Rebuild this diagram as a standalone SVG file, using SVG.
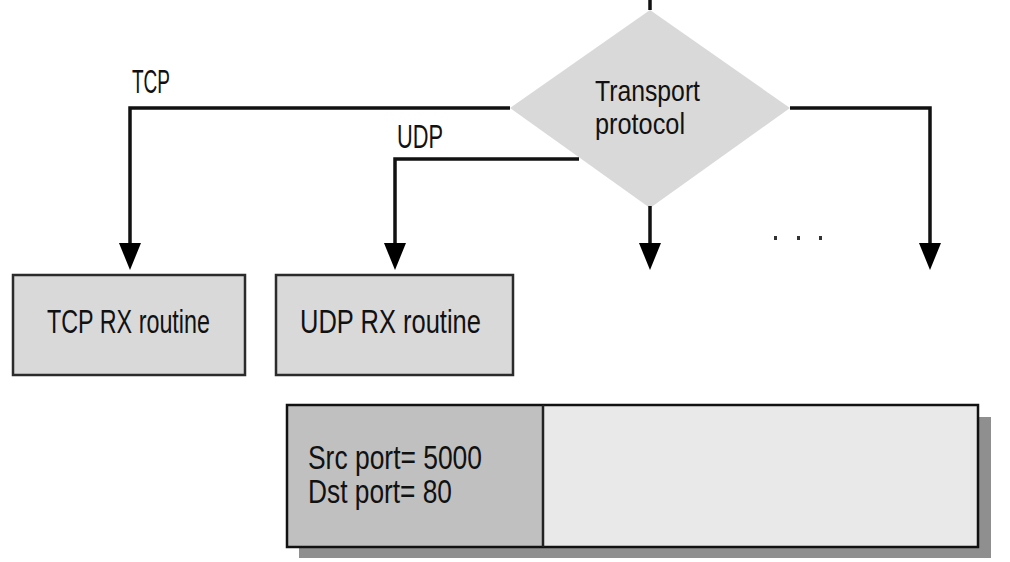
<svg xmlns="http://www.w3.org/2000/svg" width="1010" height="562" viewBox="0 0 1010 562">
<defs>
<style>
.t{font-family:"Liberation Sans Narrow","Liberation Sans",Arial,sans-serif;font-size:33px;fill:#111;}
.d{font-size:29px;}
.ln{stroke:#111;stroke-width:3.5;fill:none;}
.box{fill:#d9d9d9;stroke:#2b2b2b;stroke-width:2.5;}
</style>
</defs>
<rect width="1010" height="562" fill="#fff"/>
<g id="decision">
<polygon points="650,10 790,108 650,208 510,108" fill="#d9d9d9"/>
<text class="t d" x="595" y="101" textLength="105" lengthAdjust="spacingAndGlyphs">Transport</text>
<text class="t d" x="595" y="134" textLength="90" lengthAdjust="spacingAndGlyphs">protocol</text>
</g>
<g id="connectors">
<line class="ln" x1="650" y1="0" x2="650" y2="10"/>
<polyline class="ln" points="510,108 130,108 130,248"/>
<path d="M119,243 L141,243 L130,270 Z" fill="#000"/>
<polyline class="ln" points="579,159 395,159 395,248"/>
<path d="M384,243 L406,243 L395,270 Z" fill="#000"/>
<line class="ln" x1="650" y1="206" x2="650" y2="248"/>
<path d="M639,243 L661,243 L650,270 Z" fill="#000"/>
<polyline class="ln" points="790,108 930,108 930,248"/>
<path d="M919,243 L941,243 L930,270 Z" fill="#000"/>
<text class="t" x="132" y="93" textLength="38" lengthAdjust="spacingAndGlyphs">TCP</text>
<text class="t" x="397" y="148" textLength="46" lengthAdjust="spacingAndGlyphs">UDP</text>
<rect x="774" y="236" width="3" height="4" fill="#333"/>
<rect x="797" y="236" width="3" height="4" fill="#333"/>
<rect x="819" y="236" width="3" height="4" fill="#333"/>
</g>
<g id="tcp-rx">
<rect class="box" x="13" y="275" width="232" height="100"/>
<text class="t" x="47" y="333" textLength="163" lengthAdjust="spacingAndGlyphs">TCP RX routine</text>
</g>
<g id="udp-rx">
<rect class="box" x="276" y="275" width="237" height="100"/>
<text class="t" x="300" y="333" textLength="181" lengthAdjust="spacingAndGlyphs">UDP RX routine</text>
</g>
<g id="packet">
<rect x="299" y="417" width="692" height="141" fill="#8f8f8f"/>
<rect x="287" y="405" width="256" height="142" fill="#c0c0c0"/>
<rect x="543" y="405" width="435" height="142" fill="#e9e9e9"/>
<rect x="287" y="405" width="691" height="142" fill="none" stroke="#111" stroke-width="2.5"/>
<line x1="543" y1="405" x2="543" y2="547" stroke="#222" stroke-width="2.5"/>
<text class="t" x="308" y="469" textLength="174" lengthAdjust="spacingAndGlyphs">Src port= 5000</text>
<text class="t" x="308" y="503" textLength="144" lengthAdjust="spacingAndGlyphs">Dst port= 80</text>
</g>
</svg>
